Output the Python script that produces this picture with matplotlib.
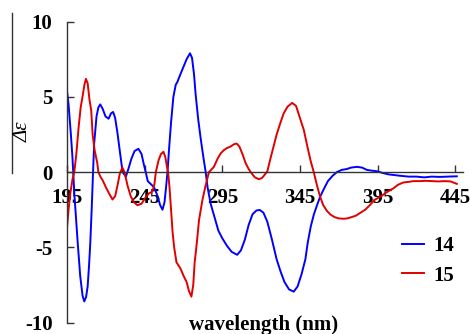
import matplotlib
matplotlib.use("Agg")
import matplotlib.pyplot as plt
from matplotlib.lines import Line2D

# ---- data ----
wl_14 = [195, 196, 197.5, 198.5, 199.7, 201.9, 203.5, 205, 206.1, 207.3, 208.3, 209.2, 210,
         211, 211.7, 212.5, 214, 215.2, 216.4, 218, 219.8, 221.8, 223.3, 224.7, 226, 227.5,
         229, 230.8, 232.9, 234.5, 236.5, 238.5, 241, 243, 244.5, 245.7, 247, 249, 251, 253,
         255, 256.5, 257.8, 258.8, 259.7, 260.7, 262, 263.5, 265, 266.1, 268, 270, 272, 274.2,
         275.5, 276.8, 277.8, 279.5, 281, 282.8, 284.3, 285.5, 287.5, 290, 292.5, 295, 298,
         301, 304.6, 307, 309.5, 312, 314.5, 317, 319.2, 321.5, 324, 327, 330, 332.5, 335,
         338, 341, 343.5, 346, 348.5, 350, 352, 354, 356, 358, 360.5, 363, 366, 368.8, 372,
         375, 378, 381.7, 385, 388, 391, 395, 398, 402, 406, 410, 415, 420, 425, 430, 435,
         440, 446]
cd_14 = [5.4, 4.5, 2.5, 1.0, -1.4, -4.7, -6.9, -8.2, -8.6, -8.3, -7.6, -6.2, -4.7,
         -2.2, -0.2, 1.9, 3.7, 4.3, 4.5, 4.2, 3.7, 3.55, 3.9, 4.0, 3.6, 2.6,
         1.4, 0.0, -0.3, 0.2, 0.9, 1.4, 1.55, 1.2, 0.5, 0.0, -0.6, -0.8, -1.0, -1.5,
         -2.2, -2.5, -2.0, -1.0, 0.0, 1.5, 3.3, 5.0, 5.8, 6.0, 6.5, 7.0, 7.5, 7.9,
         7.6, 6.5, 5.2, 3.5, 2.3, 1.0, 0.0, -1.0, -2.1, -3.0, -3.9, -4.4, -4.9,
         -5.3, -5.5, -5.2, -4.5, -3.5, -2.8, -2.55, -2.52, -2.7, -3.3, -4.5, -5.8, -6.6, -7.3,
         -7.8, -7.95, -7.6, -6.8, -5.8, -4.7, -3.6, -2.8, -2.2, -1.64, -1.1, -0.6, -0.25, 0.0, 0.15,
         0.2, 0.3, 0.35, 0.3, 0.15, 0.1, 0.05, -0.05, -0.15, -0.2, -0.25, -0.3, -0.3, -0.35, -0.3, -0.32,
         -0.3, -0.28]

wl_15 = [195, 196, 197, 198.5, 199.7, 201, 202.5, 203.8, 205.3, 206.2, 207.2, 208.3, 209.5,
         210.6, 211.5, 212.8, 214.5, 215.2, 216.5, 218, 220, 222, 224.3, 226, 227.5, 229,
         230.7, 232, 234, 236, 238, 240.4, 243, 245.5, 247.9, 250, 251.3, 252.2, 254, 255.5,
         257.1, 258.3, 259.3, 260.1, 261, 262, 263, 264, 265.5, 268, 270.3, 272, 273.5, 275.1,
         276.3, 277.2, 278.6, 280, 282.2, 284, 286.4, 289.6, 292, 294, 296, 298, 300.3, 302.5,
         304.2, 306, 308, 310, 312, 314, 316, 318.5, 320.5, 322.5, 324, 326, 328, 330, 332.5,
         334.5, 337, 340, 342.5, 345, 347.5, 350, 352, 353.9, 356, 358, 360, 362.5, 365, 367.5,
         370, 373, 375.5, 378, 381, 384, 387, 390, 393, 396.7, 400, 403, 405.2, 408, 411.6,
         415, 418, 422, 426, 430, 434, 438, 442, 444, 446]
cd_15 = [-3.7, -2.5, -1.5, -0.5, 0.0, 1.2, 3.0, 4.3, 5.2, 5.8, 6.2, 5.9, 4.8,
         4.1, 2.5, 1.45, 0.6, 0.0, -0.3, -0.55, -1.0, -1.4, -1.82, -1.6, -0.9, -0.1,
         0.3, 0.0, -0.9, -1.6, -2.0, -2.2, -2.1, -1.7, -1.4, -1.3, -0.8, 0.0, 0.8, 1.2,
         1.35, 1.0, 0.4, 0.0, -1.0, -2.5, -4.0, -5.0, -6.0, -6.4, -6.95, -7.3, -7.9, -8.28,
         -7.5, -6.0, -4.7, -3.2, -1.86, -1.0, 0.0, 0.35, 0.9, 1.25, 1.46, 1.6, 1.7, 1.85,
         1.9, 1.7, 1.2, 0.6, 0.2, -0.1, -0.35, -0.47, -0.4, -0.15, 0.05, 0.9, 1.7, 2.5, 3.3,
         3.9, 4.35, 4.6, 4.4, 3.6, 2.8, 1.6, 0.7, 0.0, -0.9, -1.64, -2.2, -2.6, -2.85, -3.0,
         -3.08, -3.1, -3.08, -3.0, -2.9, -2.7, -2.5, -2.2, -1.85, -1.64, -1.4, -1.2, -1.08, -0.85, -0.69,
         -0.65, -0.6, -0.6, -0.58, -0.6, -0.62, -0.6, -0.62, -0.7, -0.78]

series_labels = ["14", "15"]
x_ticks = [195, 245, 295, 345, 395, 445]
y_ticks = [-10, -5, 0, 5, 10]

# ---- figure ----
W, H = 470, 334
fig = plt.figure(figsize=(W / 100, H / 100), dpi=100)
ax = fig.add_axes([67 / W, 1 - 322.5 / H, (463 - 67) / W, (322.5 - 21.7) / H])

ax.plot(wl_14, cd_14, color="#0000FF", lw=1.4, label=series_labels[0])
ax.plot(wl_15, cd_15, color="#E00000", lw=1.4, label=series_labels[1])

ax.set_xlim(195, 450)
ax.set_ylim(-10, 10)

for s in ("top", "right"):
    ax.spines[s].set_visible(False)
ax.spines["bottom"].set_position(("data", 0))
for s in ("left", "bottom"):
    ax.spines[s].set_color("#333333")
    ax.spines[s].set_linewidth(1.0)

tick_font = dict(family="Liberation Serif", weight="bold", size=15)
ax.set_xticks(x_ticks)
ax.set_xticklabels([str(t) for t in x_ticks], fontdict=tick_font)
ax.set_yticks(y_ticks)
ax.set_yticklabels([str(t) for t in y_ticks], fontdict=tick_font)
ax.tick_params(axis="x", direction="in", length=5, width=1, color="#333333", pad=11.5)
ax.tick_params(axis="y", direction="in", length=5, width=1, color="#333333", pad=10.5)

fig.text(23 / W, 1 - 132 / H, "Δε", rotation=90, ha="center", va="center",
         family="Liberation Serif", style="italic", size=15)
fig.text(264 / W, 1 - 325 / H, "wavelength (nm)", ha="center", va="center",
         family="Liberation Serif", weight="bold", size=15)

# the thin vertical rule left of the y label
fig.add_artist(Line2D([12 / W, 12 / W], [1 - 13 / H, 1 - 173 / H],
                      transform=fig.transFigure, color="#333333", lw=1.0))

leg = ax.legend(loc="center left", bbox_to_anchor=(401.7 / W, 1 - 261 / H),
                bbox_transform=fig.transFigure, frameon=False, borderpad=0,
                borderaxespad=0, handlelength=1.05, handletextpad=0.45,
                labelspacing=0.45, prop=dict(family="Liberation Serif", weight="bold", size=15))

fig.savefig("out.png", dpi=100)
